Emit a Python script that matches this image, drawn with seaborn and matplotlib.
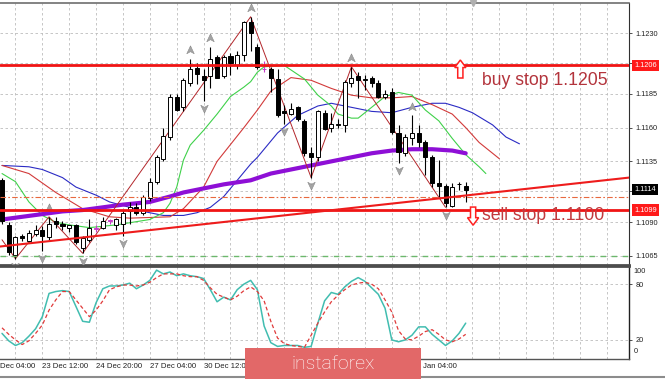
import matplotlib
matplotlib.use("Agg")
import matplotlib.pyplot as plt
import matplotlib.transforms as mtransforms
from matplotlib.patches import Polygon, Rectangle
from matplotlib.lines import Line2D
from matplotlib.path import Path
import numpy as np
import seaborn as sns

# EURUSD H4 candles
open_ = [1.1121, 1.1088, 1.1066, 1.1080, 1.1076, 1.1081, 1.1084, 1.1079, 1.1091, 1.1089,
         1.1086, 1.1088, 1.1071, 1.1077, 1.1085, 1.1086, 1.1091, 1.1088, 1.1089, 1.1098,
         1.1101, 1.1097, 1.1108, 1.1120, 1.1137, 1.1153, 1.1183, 1.1175, 1.1193, 1.1204,
         1.1198, 1.1198, 1.1212, 1.1198, 1.1213, 1.1206, 1.1214, 1.1238, 1.1220, 1.1203,
         1.1203, 1.1196, 1.1172, 1.1170, 1.1175, 1.1165, 1.1141, 1.1138, 1.1171, 1.1160,
         1.1162, 1.1162, 1.1193, 1.1198, 1.1195, 1.1197, 1.1193, 1.1183, 1.1186, 1.1156,
         1.1141, 1.1152, 1.1156, 1.1149, 1.1138, 1.1119, 1.1117, 1.1102, 1.1118, 1.1117]
high = [1.1123, 1.1090, 1.1080, 1.1081, 1.1084, 1.1088, 1.1087, 1.1094, 1.1094, 1.1091,
        1.1088, 1.1089, 1.1080, 1.1092, 1.1088, 1.1094, 1.1092, 1.1093, 1.1099, 1.1105,
        1.1104, 1.1110, 1.1123, 1.1140, 1.1160, 1.1185, 1.1185, 1.1197, 1.1211, 1.1208,
        1.1203, 1.1220, 1.1214, 1.1214, 1.1215, 1.1217, 1.1239, 1.1242, 1.1222, 1.1209,
        1.1205, 1.1203, 1.1177, 1.1178, 1.1176, 1.1166, 1.1146, 1.1173, 1.1173, 1.1171,
        1.1166, 1.1195, 1.1205, 1.1201, 1.1199, 1.1198, 1.1195, 1.1188, 1.1189, 1.1162,
        1.1155, 1.1169, 1.1162, 1.1151, 1.1140, 1.1136, 1.1118, 1.1119, 1.1120, 1.1120]
low = [1.1089, 1.1066, 1.1063, 1.1076, 1.1075, 1.1080, 1.1069, 1.1077, 1.1086, 1.1084,
       1.1083, 1.1074, 1.1067, 1.1075, 1.1083, 1.1085, 1.1089, 1.1084, 1.1080, 1.1089,
       1.1095, 1.1095, 1.1106, 1.1118, 1.1135, 1.1151, 1.1172, 1.1172, 1.1191, 1.1192,
       1.1180, 1.1189, 1.1197, 1.1197, 1.1199, 1.1203, 1.1209, 1.1217, 1.1203, 1.1201,
       1.1186, 1.1168, 1.1163, 1.1169, 1.1165, 1.1139, 1.1123, 1.1135, 1.1158, 1.1157,
       1.1160, 1.1157, 1.1190, 1.1182, 1.1188, 1.1190, 1.1182, 1.1181, 1.1155, 1.1134,
       1.1139, 1.1147, 1.1146, 1.1125, 1.1116, 1.1109, 1.1101, 1.1101, 1.1114, 1.1105]
close = [1.1091, 1.1068, 1.1079, 1.1078, 1.1082, 1.1084, 1.1080, 1.1089, 1.1089, 1.1087,
         1.1088, 1.1075, 1.1078, 1.1086, 1.1086, 1.1091, 1.1091, 1.1092, 1.1097, 1.1101,
         1.1097, 1.1109, 1.1120, 1.1138, 1.1154, 1.1183, 1.1173, 1.1195, 1.1203, 1.1200,
         1.1195, 1.1211, 1.1197, 1.1212, 1.1208, 1.1214, 1.1238, 1.1230, 1.1205, 1.1203,
         1.1197, 1.1169, 1.1171, 1.1174, 1.1166, 1.1141, 1.1138, 1.1172, 1.1159, 1.1163,
         1.1162, 1.1194, 1.1197, 1.1195, 1.1196, 1.1193, 1.1183, 1.1185, 1.1157, 1.1142,
         1.1153, 1.1156, 1.1149, 1.1138, 1.1119, 1.1117, 1.1104, 1.1116, 1.1118, 1.1114]
doji_bars = [14, 16, 39]

up_fractals = [7, 28, 31, 37, 52, 61]
down_fractals = [2, 6, 12, 18, 30, 42, 46, 59, 66]

zigzag_bars = [0, 2, 7, 12, 37, 46, 52, 66]
zigzag_price = [1.1077, 1.1063, 1.1094, 1.1067, 1.1242, 1.1123, 1.1205, 1.1101]

# Alligator lines (shifted forward) and the slow MA
lips_bars = [0, 2, 4, 6, 8, 10, 13, 17, 22, 24, 25, 26, 27, 28, 30, 32, 34, 36, 37, 38,
             39, 42, 45, 47, 49, 50, 52, 53, 55, 57, 59, 61, 63, 64, 65, 67, 69, 71, 72]
lips_price = [1.1126, 1.1120, 1.1105, 1.1095, 1.1090, 1.1088, 1.1086, 1.1088, 1.1092,
              1.1097, 1.1104, 1.1116, 1.1136, 1.1147, 1.1158, 1.1170, 1.1183, 1.1190,
              1.1194, 1.1201, 1.1205, 1.1206, 1.1196, 1.1184, 1.1176, 1.1170, 1.1167,
              1.1167, 1.1175, 1.1183, 1.1186, 1.1184, 1.1173, 1.1169, 1.1165, 1.1152,
              1.1140, 1.1131, 1.1126]
teeth_bars = [0, 4, 8, 12, 16, 19, 25, 27, 30, 32, 36, 38, 40, 43, 46, 49, 52, 55, 58,
              61, 64, 67, 69, 71, 74]
teeth_price = [1.1132, 1.1126, 1.1112, 1.1100, 1.1094, 1.1093, 1.1094, 1.1100, 1.1116,
               1.1135, 1.1160, 1.1173, 1.1187, 1.1197, 1.1195, 1.1189, 1.1184, 1.1182,
               1.1182, 1.1183, 1.1177, 1.1170, 1.1160, 1.1149, 1.1137]
jaw_bars = [0, 4, 6, 9, 11, 14, 16, 19, 21, 24, 27, 29, 31, 33, 35, 37, 38, 41, 44, 47,
            49, 52, 55, 58, 61, 64, 66, 68, 70, 73, 75, 77]
jaw_price = [1.1132, 1.1131, 1.1129, 1.1123, 1.1116, 1.1110, 1.1105, 1.1101, 1.1098,
             1.1095, 1.1095, 1.1097, 1.1101, 1.1109, 1.1121, 1.1133, 1.1138, 1.1156,
             1.1169, 1.1176, 1.1178, 1.1175, 1.1172, 1.1171, 1.1175, 1.1178, 1.1178,
             1.1175, 1.1171, 1.1162, 1.1153, 1.1148]
ma_bars = [0, 3, 6, 9, 12, 15, 18, 22, 25, 27, 30, 33, 37, 40, 45, 49, 52, 55, 58, 61,
           64, 67, 69]
ma_price = [1.1092, 1.1094, 1.1096, 1.1098, 1.1099, 1.1101, 1.1103, 1.1105, 1.1109,
            1.1112, 1.1115, 1.1118, 1.1121, 1.1126, 1.1131, 1.1135, 1.1138, 1.1141,
            1.1143, 1.1144, 1.1144, 1.1143, 1.1141]

trend_bars = [-0.3, 93.3]
trend_price = [1.1072, 1.1123]

buy_stop_level = 1.1206
sell_stop_level = 1.1099
order_level = 1.1109
target_level = 1.1065
last_price = 1.1114

price_ticks = [1.1065, 1.1090, 1.1113, 1.1135, 1.1160, 1.1185, 1.1208, 1.1230]
price_tick_labels = ["1.1065", "1.1090", "", "1.1135", "1.1160", "1.1185", "", "1.1230"]

# time scale labels as far as they are visible (the rest sits under the logo)
time_label_bars = [-0.3, 6, 14, 22, 30, 62.7]
time_labels = ["Dec 04:00", "23 Dec 12:00", "24 Dec 20:00", "27 Dec 04:00",
               "30 Dec 12:00", "Jan 04:00"]

# Stochastic oscillator, one value per candle
stoch_main = [27, 19, 14, 17, 24, 32, 45, 70, 72, 73, 72, 56, 40, 39, 60, 75, 78, 78,
              79, 81, 75, 79, 84, 95, 91, 93, 89, 91, 89, 88, 86, 74, 61, 66, 63, 74,
              80, 84, 74, 35, 17, 13, 14, 14, 14, 12, 13, 38, 62, 71, 69, 77, 83, 87,
              83, 76, 69, 54, 20, 18, 20, 25, 34, 34, 26, 20, 14, 19, 27, 38]
stoch_signal = [33, 26, 20, 15, 19, 27, 36, 52, 63, 72, 72, 63, 54, 45, 52, 62, 74, 77,
                79, 79, 78, 79, 82, 87, 91, 91, 91, 89, 88, 88, 84, 76, 69, 66, 63, 67,
                73, 77, 72, 62, 40, 22, 16, 14, 13, 12, 25, 38, 50, 61, 68, 74, 79, 81,
                82, 80, 75, 63, 50, 30, 21, 20, 24, 29, 31, 26, 20, 18, 21, 26]

W, H = 665, 379
X_LEFT, X_RIGHT = -0.3, 93.3
Y_BOTTOM, Y_TOP = 1.10587, 1.12522


def hollow_arrow(ax, x, y_tail, y_tip, shaft=2.6, head=5.6, head_len=7.5):
    """Outlined block arrow built in pixel space, so the shape ignores the aspect."""
    (px, p0), (_, p1) = ax.transData.transform([(x, y_tail), (x, y_tip)])
    d = 1 if p1 > p0 else -1
    neck = p1 - d * head_len
    pts = [(px - shaft, p0), (px - shaft, neck), (px - head, neck), (px, p1),
           (px + head, neck), (px + shaft, neck), (px + shaft, p0)]
    verts = ax.transData.inverted().transform(pts)
    ax.add_patch(Polygon(verts, closed=True, facecolor="white", edgecolor="#ff2020",
                         linewidth=1.1, zorder=8))


sns.set_theme(style="white")
plt.rcParams["font.family"] = ["Liberation Sans", "DejaVu Sans"]

fig = plt.figure(figsize=(W / 100, H / 100), dpi=100, facecolor="white")
ax = fig.add_axes([0, 1 - 264.5 / H, 629 / W, (264.5 - 3) / H])
ax2 = fig.add_axes([0, 1 - 358.5 / H, 629 / W, (358.5 - 265.5) / H])

grid_bars = np.arange(2, 94, 4)
for a in (ax, ax2):
    a.set_facecolor("white")
    a.set_xlim(X_LEFT, X_RIGHT)
    a.set_xticks(grid_bars)
    a.set_xticklabels([])
    a.grid(True, color="#bdbdbd", linestyle=(0, (3, 3)), linewidth=0.6)
    a.set_axisbelow(True)
    a.spines["left"].set_visible(False)
    a.tick_params(axis="x", length=0)
    a.yaxis.tick_right()

ax.set_ylim(Y_BOTTOM, Y_TOP)
ax.set_yticks(price_ticks)
ax.set_yticklabels(price_tick_labels)
ax.tick_params(axis="y", right=True, left=False, length=2.5, width=0.6, color="#333333",
               pad=2, labelsize=5.3, labelcolor="#222222")
ax.spines["top"].set_color("#6e6e6e")
ax.spines["top"].set_linewidth(1.2)
ax.spines["right"].set_color("#303030")
ax.spines["right"].set_linewidth(0.8)
ax.spines["bottom"].set_color("#4d4d4d")
ax.spines["bottom"].set_linewidth(2)

# moving averages
sns.lineplot(x=jaw_bars, y=jaw_price, ax=ax, color="#2b2bc4", linewidth=0.8, zorder=2)
sns.lineplot(x=teeth_bars, y=teeth_price, ax=ax, color="#d23a3a", linewidth=0.8, zorder=2)
sns.lineplot(x=lips_bars, y=lips_price, ax=ax, color="#3fd14a", linewidth=0.8, zorder=2)
sns.lineplot(x=ma_bars, y=ma_price, ax=ax, color="#8e0fd6", linewidth=3, zorder=2.5)
sns.lineplot(x=zigzag_bars, y=zigzag_price, ax=ax, color="#b3262b", linewidth=0.7, zorder=3)

# candles
bars = np.arange(len(open_))
o, c = np.array(open_), np.array(close)
bull = c >= o
line_col = np.where(np.isin(bars, doji_bars), "#c83cc8", "black")
ax.vlines(bars, low, high, colors=line_col, linewidth=0.8, zorder=4)
ax.bar(bars, np.maximum(np.abs(c - o), 0.00003), bottom=np.minimum(o, c), width=0.6,
       color=np.where(bull, "white", "black"), edgecolor=line_col, linewidth=0.7, zorder=5)

# fractal arrows
up_mark = Path([(0, 1), (0.8, -0.7), (0, -0.25), (-0.8, -0.7), (0, 1)])
down_mark = Path([(0, -1), (0.8, 0.7), (0, 0.25), (-0.8, 0.7), (0, -1)])
ax.scatter(up_fractals, np.array(high)[up_fractals] + 0.00062, marker=up_mark, s=45,
           color="#a4a4a4", edgecolors="#8a8a8a", linewidths=0.4, zorder=5)
ax.scatter(down_fractals, np.array(low)[down_fractals] - 0.00055, marker=down_mark, s=45,
           color="#a4a4a4", edgecolors="#8a8a8a", linewidths=0.4, zorder=5)

# horizontal levels and trend line
ax.axhline(order_level, color="#e8683e", linewidth=0.8, linestyle=(0, (5, 2, 1.5, 2)), zorder=5.5)
ax.axhline(target_level, color="#6cb86c", linewidth=1.0, linestyle=(0, (4, 4)), zorder=5.5)
ax.axhline(buy_stop_level, color="#f01414", linewidth=2.0, zorder=6)
ax.axhline(sell_stop_level, color="#f01414", linewidth=2.0, zorder=6)
sns.lineplot(x=trend_bars, y=trend_price, ax=ax, color="#ee1c1c", linewidth=1.5, zorder=6)

ax.text(71.4, 1.11948, "buy stop 1.1205", fontsize=12.7, color="#b3343c", ha="left",
        va="center", zorder=7)
ax.text(71.4, 1.10953, "sell stop 1.1100", fontsize=12.7, color="#c23a3e", ha="left",
        va="center", zorder=7)
hollow_arrow(ax, 68.2, 1.11967, 1.12100)
hollow_arrow(ax, 70.1, 1.11012, 1.10878)

# price markers on the scale
blend = mtransforms.blended_transform_factory(ax.transAxes, ax.transData)
for level, bg in ((buy_stop_level, "#ff1a1a"), (last_price, "black"), (sell_stop_level, "#ff1a1a")):
    ax.text(1.008, level, f"{level:.4f}", transform=blend, fontsize=5.3, color="white",
            ha="left", va="center", clip_on=False, zorder=9,
            bbox=dict(boxstyle="square,pad=0.3", fc=bg, ec="none"))

# chart shift marker
ax.plot([70.1], [1.0], marker="v", markersize=5, color="#b0b0b0",
        transform=mtransforms.blended_transform_factory(ax.transData, ax.transAxes),
        clip_on=False, zorder=9)

# stochastic window
ax2.set_ylim(0, 100)
ax2.set_yticks([20, 80])
ax2.set_yticklabels(["20", "80"])
ax2.tick_params(axis="y", right=True, left=False, length=2.5, width=0.6, color="#333333",
                pad=2, labelsize=5.3, labelcolor="#222222")
blend2 = mtransforms.blended_transform_factory(ax2.transAxes, ax2.transData)
ax2.text(1.0075, 93.5, "100", transform=blend2, fontsize=5.3, color="#222222",
         ha="left", va="center", clip_on=False)
ax2.text(1.0075, 7, "0", transform=blend2, fontsize=5.3, color="#222222",
         ha="left", va="center", clip_on=False)
ax2.spines["top"].set_color("#4d4d4d")
ax2.spines["top"].set_linewidth(2)
ax2.spines["right"].set_color("#202020")
ax2.spines["right"].set_linewidth(1.0)
ax2.spines["bottom"].set_color("#555555")
ax2.spines["bottom"].set_linewidth(1.0)

sns.lineplot(x=bars, y=stoch_main, ax=ax2, color="#41bdb0", linewidth=1.1, zorder=3)
sns.lineplot(x=bars, y=stoch_signal, ax=ax2, color="#e03a3a", linewidth=0.9,
             linestyle=(0, (3, 2)), zorder=3)
ax.set_xlabel("")
ax.set_ylabel("")
ax2.set_xlabel("")
ax2.set_ylabel("")

tblend = mtransforms.blended_transform_factory(ax2.transData, ax2.transAxes)
for b, lab in zip(time_label_bars, time_labels):
    ax2.text(b, -0.083, lab, transform=tblend, fontsize=5.6, color="#222222",
             ha="left", va="center", clip_on=False)

# window bottom edge
fig.add_artist(Line2D([0, 1], [1 - 377 / H] * 2, color="#8c8c8c", linewidth=1.5))

# watermark
fig.add_artist(Rectangle((245 / W, 0), 176 / W, 31 / H, transform=fig.transFigure,
                         facecolor="#e26868", edgecolor="none", zorder=10))
fig.text(333 / W, 1 - 364 / H, "instaforex", fontsize=14, color="white", ha="center",
         va="center", family=["Roboto", "DejaVu Sans"], fontweight="light", zorder=11)

fig.savefig("out.png", dpi=100, facecolor="white")
